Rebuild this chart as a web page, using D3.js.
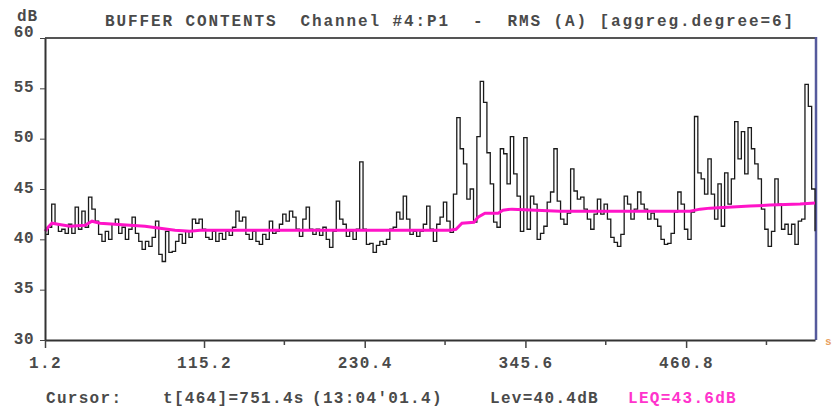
<!DOCTYPE html>
<html>
<head>
<meta charset="utf-8">
<script src="https://cdn.jsdelivr.net/npm/d3@7"></script>
<style>
  body { margin: 0; background: #fff; }
  text { font-family: "Liberation Mono", "DejaVu Sans Mono", monospace; white-space: pre; font-weight: bold; }
</style>
</head>
<body>
<div id="chart"></div>
<script>
// RMS (A) level per aggregated sample, dB (one every 2.4 s from 1.2)
var levels = [
  40.5, 41.2, 43.5, 41.5, 40.8, 41.0, 40.6, 41.5, 40.6, 43.2,
  41.0, 42.8, 41.2, 44.2, 43.0, 41.8, 40.5, 39.8, 40.8, 40.0,
  41.5, 42.0, 40.6, 41.2, 40.0, 41.0, 42.2, 40.6, 39.8, 39.0,
  39.8, 39.3, 40.2, 41.8, 38.5, 37.8, 40.8, 38.7, 38.8, 39.8,
  40.5, 39.6, 40.8, 40.2, 42.0, 41.6, 42.0, 41.0, 40.2, 40.0,
  40.8, 39.8, 40.6, 40.0, 40.8, 40.4, 41.2, 42.8, 41.8, 42.2,
  40.5, 40.0, 40.8, 39.8, 39.5, 40.5, 40.0, 41.8, 40.6, 40.8,
  41.5, 42.5, 41.8, 42.8, 42.2, 41.0, 40.3, 42.0, 43.2, 41.0,
  40.5, 41.0, 40.4, 41.2, 40.0, 39.2, 40.8, 43.8, 42.0, 41.5,
  40.3, 40.8, 40.0, 41.0, 47.7, 41.0, 39.5, 39.6, 38.7, 39.4,
  39.8, 39.5, 40.0, 41.0, 41.2, 42.7, 42.0, 44.3, 42.0, 40.5,
  40.8, 40.3, 40.8, 41.5, 43.3, 41.0, 39.8, 41.5, 42.2, 43.7,
  41.8, 40.7, 44.5, 52.1, 49.0, 47.5, 44.0, 45.0, 41.7, 50.2,
  55.7, 53.6, 48.6, 45.5, 41.7, 41.2, 49.0, 48.5, 45.5, 50.2,
  46.5, 44.3, 40.8, 50.1, 41.0, 44.3, 43.5, 40.0, 40.6, 41.3,
  43.7, 44.7, 49.0, 43.8, 42.0, 41.5, 42.6, 47.0, 44.8, 44.0,
  44.2, 43.0, 42.0, 41.0, 42.5, 44.0, 42.5, 43.5, 42.0, 40.2,
  39.7, 39.3, 40.5, 44.3, 43.5, 42.0, 43.0, 44.7, 43.5, 43.0,
  42.0, 42.6, 42.0, 41.3, 40.0, 39.5, 39.6, 40.6, 42.7, 44.7,
  43.5, 41.0, 40.0, 42.7, 52.2, 46.6, 46.0, 44.5, 48.0, 44.5,
  42.0, 45.5, 41.3, 46.6, 43.5, 46.0, 51.7, 48.0, 50.7, 46.5,
  51.1, 49.0, 47.5, 46.0, 43.0, 41.0, 39.3, 40.8, 46.0, 43.5,
  41.0, 41.5, 40.5, 41.5, 39.5, 41.8, 42.0, 55.4, 53.2, 45.0,
  40.8
];

// running LEQ, read at break points (time s, dB)
var leqTimes = [1.2, 3.4, 6.2, 10.5, 19.1, 29.9, 34.9, 40.6, 62.1, 72.9,
  83.6, 94.4, 105.1, 112.3, 184.0, 291.5, 295.8, 300.1, 308.7, 311.6,
  316.6, 326.0, 329.5, 336.0, 370.4, 463.6, 470.8, 477.9, 506.6, 521.0,
  542.5, 553.2];
var leqValues = [40.8, 41.2, 41.6, 41.5, 41.3, 41.4, 41.8, 41.6, 41.4, 41.3,
  41.1, 40.9, 40.8, 40.9, 40.9, 40.9, 41.0, 41.6, 41.7, 42.2,
  42.6, 42.6, 42.9, 43.0, 42.8, 42.8, 43.0, 43.1, 43.3, 43.4,
  43.5, 43.6];

var xTickValues = [1.2, 115.2, 230.4, 345.6, 460.8];
var xMinorTicks = [172.8, 288, 403.2, 518.4];
var yTickValues = [30, 35, 40, 45, 50, 55, 60];

var titleText = "BUFFER CONTENTS  Channel #4:P1  -  RMS (A) [aggreg.degree=6]";

var W = 833, H = 408;
var margin = { left: 45, right: 815, top: 38, bottom: 340 };
var textColor = "#4a4a4a";

var svg = d3.select("#chart").append("svg")
  .attr("width", W)
  .attr("height", H)
  .style("display", "block");

var x = d3.scaleLinear().domain([1.2, 553.2]).range([margin.left, margin.right]);
var y = d3.scaleLinear().domain([30, 60]).range([margin.bottom, margin.top]);

var series = levels.map(function (v, i) {
  return { t: 1.2 + i * 2.4, v: v };
});
var leq = leqTimes.map(function (t, i) {
  return { t: t, v: leqValues[i] };
});

// title and unit
svg.append("text")
  .attr("x", 105).attr("y", 26)
  .style("font-size", "16px")
  .style("letter-spacing", "1.9px")
  .attr("fill", textColor)
  .text(titleText);

svg.append("text")
  .attr("x", 17).attr("y", 21)
  .style("font-size", "16px")
  .style("letter-spacing", "1px")
  .attr("fill", textColor)
  .text("dB");

// frame: top and right edges
svg.append("line")
  .attr("x1", margin.left).attr("x2", margin.right)
  .attr("y1", margin.top).attr("y2", margin.top)
  .attr("stroke", "#555").attr("stroke-width", 2);
svg.append("line")
  .attr("x1", margin.right + 1).attr("x2", margin.right + 1)
  .attr("y1", margin.top - 1).attr("y2", margin.bottom)
  .attr("stroke", "#555a9c").attr("stroke-width", 2.5);

// data line
var line = d3.line()
  .x(function (d) { return x(d.t); })
  .y(function (d) { return y(d.v); })
  .curve(d3.curveStepAfter);

svg.append("path")
  .datum(series)
  .attr("d", line)
  .attr("fill", "none")
  .attr("stroke", "#1a1a1a")
  .attr("stroke-width", 1.3);

// LEQ line
var leqLine = d3.line()
  .x(function (d) { return x(d.t); })
  .y(function (d) { return y(d.v); });

svg.append("path")
  .datum(leq)
  .attr("d", leqLine)
  .attr("fill", "none")
  .attr("stroke", "#ff14c8")
  .attr("stroke-width", 3);

// y axis
var yAxis = svg.append("g")
  .attr("transform", "translate(" + margin.left + ",0)")
  .call(d3.axisLeft(y).tickValues(yTickValues).tickSize(5).tickSizeOuter(0).tickPadding(6));
yAxis.select(".domain").attr("stroke", "#333").attr("stroke-width", 2);
yAxis.selectAll(".tick line").attr("stroke", "#444");
yAxis.selectAll(".tick text")
  .attr("dy", function (d) { return d === 60 ? "-0.1em" : "0.2em"; })
  .style("font-size", "16px")
  .style("letter-spacing", "0.5px")
  .attr("fill", textColor);

// x axis
var xAxis = svg.append("g")
  .attr("transform", "translate(0," + margin.bottom + ")")
  .call(d3.axisBottom(x).tickValues(xTickValues).tickFormat(d3.format(".1f"))
    .tickSize(8).tickSizeOuter(0).tickPadding(9));
xAxis.select(".domain").attr("stroke", "#333").attr("stroke-width", 2);
xAxis.selectAll(".tick line").attr("stroke", "#444").attr("stroke-width", 1.5);
xAxis.selectAll(".tick text")
  .style("font-size", "16px")
  .style("letter-spacing", "1.4px")
  .attr("fill", textColor);

svg.append("g")
  .selectAll("line")
  .data(xMinorTicks)
  .enter()
  .append("line")
  .attr("x1", function (d) { return x(d); })
  .attr("x2", function (d) { return x(d); })
  .attr("y1", margin.bottom)
  .attr("y2", margin.bottom + 5)
  .attr("stroke", "#444")
  .attr("stroke-width", 1.5);

// cursor read-out
var readout = [
  { x: 46, text: "Cursor:", color: textColor },
  { x: 163, text: "t[464]=751.4s", color: textColor },
  { x: 312, text: "(13:04'01.4)", color: textColor },
  { x: 490, text: "Lev=40.4dB", color: textColor },
  { x: 628, text: "LEQ=43.6dB", color: "#ff33cc" }
];
svg.append("g")
  .selectAll("text")
  .data(readout)
  .enter()
  .append("text")
  .attr("x", function (d) { return d.x; })
  .attr("y", 403)
  .style("font-size", "16px")
  .style("letter-spacing", "1.3px")
  .attr("fill", function (d) { return d.color; })
  .text(function (d) { return d.text; });

// small marker at the right edge
svg.append("text")
  .attr("x", 825).attr("y", 345)
  .style("font-size", "11px")
  .attr("fill", "#e8a060")
  .text("s");
</script>
</body>
</html>
